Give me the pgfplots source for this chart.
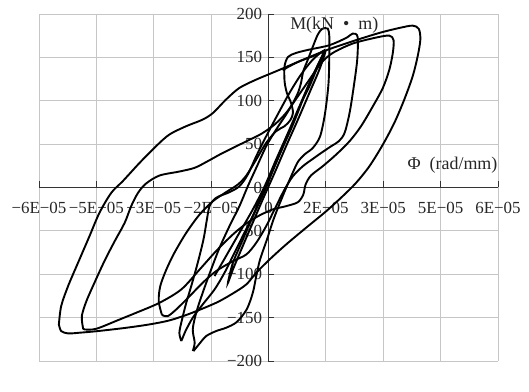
\documentclass[border=0pt]{standalone}
\usepackage{fontspec}
\setmainfont{Liberation Serif}
\usepackage{pgfplots}
\pgfplotsset{compat=1.18}
\begin{document}
\begin{tikzpicture}
\path[use as bounding box] (-39bp,-31bp) rectangle (490bp,361bp);
\begin{axis}[
  at={(0,0)}, anchor=south west,
  scale only axis, width=459bp, height=347bp,
  xmin=-6, xmax=6, ymin=-200, ymax=200,
  axis lines=middle,
  axis line style={black!80, line width=0.8bp, -},
  hide obscured x ticks=false, hide obscured y ticks=false,
  grid=major, grid style={gray!45, line width=0.8bp},
  xtick={-6,-4.5,-3,-1.5,0,1.5,3,4.5,6},
  xticklabels={−6E−05,−5E−05,−3E−05,−2E−05,0,2E−05,3E−05,5E−05,6E−05},
  ytick={-200,-150,-100,-50,0,50,100,150,200},
  yticklabels={−200,−150,−100,−50,0,50,100,150,200},
  tick align=inside, major tick length=6bp,
  tick style={black!80, line width=0.8bp},
  ticklabel style={font=\fontsize{17}{19}\selectfont, text=black!85},
  xticklabel style={yshift=-11bp},
  yticklabel style={xshift=-3bp},
  clip=false,
]
% outer loop
\addplot[black, line width=1.9bp, smooth, tension=0.5] coordinates {
(-5.48,-157.8) (-5.42,-136.7) (-5.24,-113.7) (-4.98,-86.8) (-4.68,-56.1) (-4.42,-29.2)
(-4.11,-6.1) (-3.81,7.3) (-3.37,28.4) (-2.94,47.6) (-2.59,61.1) (-2.15,70.7) (-1.72,78.3)
(-1.45,86.0) (-1.11,101.4) (-0.76,114.8) (-0.32,124.4) (0.20,134.0) (0.81,145.5) (1.51,158.2)
(2.20,168.6) (2.90,178.2) (3.42,183.9) (3.77,186.6) (3.93,182.8) (3.97,170.5) (3.90,151.3)
(3.77,128.3) (3.55,101.4) (3.29,74.5) (2.99,49.5) (2.64,24.6) (2.29,5.4) (1.94,-10.0)
(1.51,-27.3) (0.98,-46.5) (0.46,-65.7) (0.03,-82.9) (-0.32,-98.3) (-0.58,-111.7) (-0.93,-122.1)
(-1.37,-132.9) (-2.06,-145.5) (-2.59,-153.2) (-3.11,-157.8) (-3.72,-161.7) (-4.46,-165.5)
(-4.94,-167.4) (-5.24,-168.2) (-5.42,-165.5) (-5.48,-157.8)
};
% second loop
\addplot[black, line width=1.9bp, smooth, tension=0.5] coordinates {
(-4.85,-161.7) (-4.88,-148.2) (-4.76,-130.9) (-4.55,-109.8) (-4.29,-84.9) (-4.02,-61.8)
(-3.76,-40.7) (-3.59,-21.5) (-3.41,-6.1) (-3.20,4.6) (-2.85,13.8) (-2.33,18.4) (-1.93,22.7)
(-1.59,30.3) (-1.24,38.8) (-0.89,46.5) (-0.54,54.1) (-0.19,61.8) (0.16,72.6) (0.46,86.0)
(0.77,105.2) (1.07,124.4) (1.38,143.6) (1.68,155.1) (2.20,165.9) (2.81,172.8) (3.16,175.1)
(3.27,169.7) (3.25,155.1) (3.16,135.9) (2.99,114.8) (2.73,93.7) (2.42,70.7) (2.12,53.4)
(1.77,38.0) (1.42,24.6) (1.11,13.8) (0.97,3.5) (0.91,-8.1) (0.77,-16.9) (0.46,-21.5)
(0.11,-25.3) (-0.24,-32.3) (-0.58,-41.5) (-0.93,-54.1) (-1.37,-73.3) (-1.80,-94.5)
(-2.28,-117.5) (-2.85,-132.9) (-3.46,-144.4) (-3.89,-152.1) (-4.50,-162.8) (-4.81,-163.6)
(-4.85,-161.7)
};
% third loop
\addplot[black, line width=1.9bp, smooth, tension=0.5] coordinates {
(-2.79,-146.3) (-2.87,-130.9) (-2.83,-113.7) (-2.67,-94.5) (-2.46,-75.3) (-2.15,-52.2)
(-1.80,-31.1) (-1.45,-15.7) (-1.11,-5.4) (-0.80,3.5) (-0.58,13.8) (-0.32,32.3) (-0.06,51.5)
(0.20,64.9) (0.42,70.7) (0.57,77.6) (0.64,86.0) (0.59,97.5) (0.48,109.1) (0.42,122.5)
(0.42,139.8) (0.51,150.5) (0.72,155.1) (1.07,159.0) (1.59,164.0) (2.03,172.4) (2.20,177.4)
(2.33,173.6) (2.32,147.5) (2.23,116.7) (2.12,86.0) (1.99,63.0) (1.84,53.4) (1.64,47.6)
(1.38,39.9) (1.16,33.0) (0.90,24.6) (0.64,13.1) (0.42,-2.3) (0.20,-21.5) (-0.06,-44.5)
(-0.32,-63.7) (-0.58,-77.2) (-0.93,-84.9) (-1.37,-96.4) (-1.72,-109.8) (-2.06,-125.2)
(-2.41,-140.5) (-2.63,-148.2) (-2.76,-147.5) (-2.79,-146.3)
};
% spike loop
\addplot[black, line width=1.9bp, smooth, tension=0.5] coordinates {
(-1.98,-188.5) (-1.93,-178.9) (-1.98,-163.6) (-1.89,-144.4) (-1.72,-121.3) (-1.50,-94.5)
(-1.28,-69.5) (-1.02,-44.5) (-0.76,-21.5) (-0.54,1.5) (-0.30,24.6) (-0.06,47.6) (0.20,66.8)
(0.46,84.1) (0.64,97.5) (0.77,109.1) (0.85,120.6) (0.91,134.0) (1.03,147.5) (1.18,164.7)
(1.29,176.3) (1.40,182.8) (1.55,183.2) (1.59,174.3) (1.59,155.1) (1.57,120.6) (1.48,86.0)
(1.35,59.1) (1.16,45.7) (0.94,38.0) (0.77,29.6) (0.64,17.7) (0.48,1.5) (0.30,-17.7)
(0.13,-36.9) (-0.04,-59.9) (-0.22,-82.9) (-0.32,-102.1) (-0.41,-121.3) (-0.57,-140.5)
(-0.83,-155.1) (-1.11,-161.7) (-1.37,-165.5) (-1.63,-171.3) (-1.82,-180.9) (-1.96,-188.5)
};
% fifth loop
\addplot[black, line width=1.9bp, smooth, tension=0.5] coordinates {
(-2.28,-177.0) (-2.33,-167.4) (-2.26,-152.1) (-2.15,-132.9) (-2.02,-113.7) (-1.85,-86.8)
(-1.70,-59.9) (-1.61,-36.9) (-1.54,-21.5) (-1.37,-11.9) (-1.02,-5.4) (-0.76,1.5) (-0.54,15.0)
(-0.32,36.1) (-0.06,59.1) (0.24,84.1) (0.55,109.1) (0.85,130.2) (1.16,147.5) (1.46,158.2)
(1.38,149.4) (1.16,128.3) (0.90,101.4) (0.64,72.6) (0.37,45.7) (0.11,18.8) (-0.10,-4.2)
(-0.37,-29.2) (-0.63,-52.2) (-0.89,-75.3) (-1.15,-98.3) (-1.41,-117.5) (-1.72,-134.8)
(-1.98,-150.1) (-2.17,-165.5) (-2.26,-175.1) (-2.28,-177.0)
};
% small cycles
\addplot[black, line width=1.9bp, smooth, tension=0.5] coordinates {
(-1.41,-102.1) (-1.11,-79.1) (-0.76,-52.2) (-0.41,-25.3) (-0.10,1.5) (0.20,32.3) (0.51,63.0)
(0.81,93.7) (1.11,124.4) (1.38,149.4) (1.49,157.1) (1.33,135.9) (1.07,109.1) (0.77,78.3)
(0.46,47.6) (0.16,16.9) (-0.15,-13.8) (-0.45,-44.5) (-0.71,-71.4) (-0.93,-94.5) (-1.06,-109.8)
(-0.93,-86.8) (-0.67,-59.9) (-0.41,-33.0) (-0.15,-6.1) (0.07,16.9) (0.29,39.9) (0.55,66.8)
(0.81,93.7) (1.07,116.7) (1.29,139.8) (1.46,155.9) (1.16,151.3) (0.81,145.5) (0.55,139.8)
(0.37,135.2)
};
\node[font=\fontsize{18}{20}\selectfont, text=black!85] at (axis cs:1.72,187) {M(kN\enspace•\enspace m)};
\node[font=\fontsize{18}{20}\selectfont, text=black!85] at (axis cs:4.81,26) {Φ\enspace(rad/mm)};
\end{axis}
\end{tikzpicture}
\end{document}
